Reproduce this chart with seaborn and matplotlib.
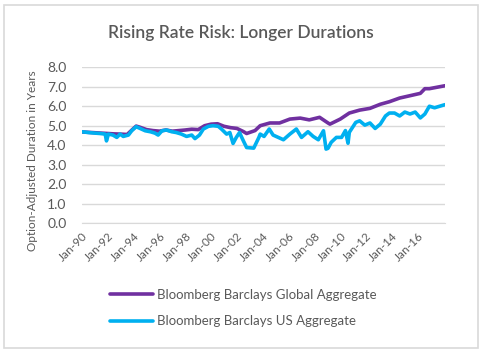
import pandas as pd
import matplotlib
matplotlib.use("Agg")
import matplotlib.pyplot as plt
import seaborn as sns
from matplotlib.patches import Rectangle

# Decimal-year positions and durations
global_years = [1990.0, 1990.5, 1991.0, 1991.5, 1992.0, 1992.5, 1993.0, 1993.5, 1993.9,
                1994.2, 1994.5, 1995.0, 1995.5, 1996.0, 1996.5, 1997.0, 1997.5, 1998.0,
                1998.5, 1999.0, 1999.5, 2000.0, 2000.5, 2001.0, 2001.5, 2002.0, 2002.5,
                2002.75, 2003.4, 2003.8, 2004.55, 2005.3, 2006.1, 2006.9, 2007.6, 2008.4,
                2009.05, 2009.2, 2010.0, 2010.7, 2011.5, 2012.3, 2013.1, 2013.8, 2014.6,
                2015.4, 2016.2, 2016.55, 2016.9, 2017.7, 2018.1]
global_agg = [4.68, 4.66, 4.64, 4.62, 4.6, 4.58, 4.57, 4.55, 4.8,
              4.98, 4.92, 4.8, 4.75, 4.72, 4.78, 4.72, 4.75, 4.78,
              4.82, 4.8, 5.0, 5.08, 5.1, 4.97, 4.9, 4.86, 4.7,
              4.6, 4.75, 5.0, 5.14, 5.14, 5.34, 5.39, 5.3, 5.43,
              5.14, 5.08, 5.34, 5.65, 5.8, 5.89, 6.1, 6.23, 6.42,
              6.54, 6.66, 6.9, 6.9, 7.0, 7.05]

us_years = [1990.0, 1990.5, 1991.0, 1991.4, 1991.8, 1991.9, 1992.05, 1992.4, 1992.7,
            1992.95, 1993.2, 1993.6, 1993.85, 1994.2, 1994.5, 1994.9, 1995.3, 1995.65,
            1995.9, 1996.2, 1996.55, 1996.95, 1997.3, 1997.7, 1998.1, 1998.5, 1998.75,
            1999.1, 1999.4, 1999.8, 2000.15, 2000.55, 2000.8, 2001.2, 2001.45, 2001.7,
            2001.95, 2002.2, 2002.5, 2002.75, 2003.3, 2003.7, 2003.8, 2004.1, 2004.5,
            2004.8, 2005.2, 2005.6, 2006.1, 2006.6, 2007.0, 2007.5, 2007.9, 2008.3,
            2008.7, 2008.9, 2009.05, 2009.3, 2009.7, 2010.1, 2010.4, 2010.6, 2010.7,
            2011.2, 2011.5, 2011.9, 2012.3, 2012.7, 2013.1, 2013.5, 2013.8, 2014.2,
            2014.6, 2015.0, 2015.4, 2015.8, 2016.2, 2016.55, 2016.9, 2017.3, 2017.7, 2018.1]
us_agg = [4.69, 4.65, 4.62, 4.6, 4.57, 4.22, 4.57, 4.52, 4.4,
          4.57, 4.45, 4.52, 4.74, 4.95, 4.86, 4.74, 4.69, 4.62,
          4.52, 4.74, 4.78, 4.69, 4.65, 4.57, 4.45, 4.52, 4.34,
          4.52, 4.83, 4.97, 5.0, 4.97, 4.83, 4.57, 4.65, 4.09,
          4.4, 4.65, 4.22, 3.88, 3.85, 4.4, 4.57, 4.45, 4.83,
          4.52, 4.4, 4.28, 4.57, 4.83, 4.4, 4.69, 4.45, 4.28,
          4.74, 3.8, 3.84, 4.15, 4.4, 4.4, 4.75, 4.1, 4.66,
          5.17, 5.25, 5.03, 5.14, 4.86, 5.08, 5.5, 5.65, 5.65,
          5.5, 5.7, 5.6, 5.7, 5.4, 5.6, 6.0, 5.92, 6.0, 6.08]

series_names = ["Bloomberg Barclays Global Aggregate", "Bloomberg Barclays US Aggregate"]
tick_years = list(range(1990, 2017, 2))
tick_labels = [f"Jan-{y % 100:02d}" for y in tick_years]
y_ticks = [0, 1, 2, 3, 4, 5, 6, 7, 8]

df = pd.concat([
    pd.DataFrame({"year": global_years, "duration": global_agg, "index": series_names[0]}),
    pd.DataFrame({"year": us_years, "duration": us_agg, "index": series_names[1]}),
])

sns.set_style("white")
plt.rcParams["font.family"] = ["Lato", "DejaVu Sans"]
text_grey = "#595959"
grid_grey = "#D9D9D9"

fig = plt.figure(figsize=(4.82, 3.52), dpi=100)
ax = fig.add_axes([0.170, 0.366, 0.753, 0.443])

sns.lineplot(data=df, x="year", y="duration", hue="index",
             palette=["#7030A0", "#00B0F0"], linewidth=2.6, ax=ax,
             estimator=None, sort=False)

ax.set_xlim(1990, 2018.1)
ax.set_ylim(0, 8)
ax.set_yticks(y_ticks)
ax.set_yticklabels([f"{v:.1f}" for v in y_ticks], color=text_grey, fontsize=10)
ax.set_xticks(tick_years)
ax.set_xticklabels(tick_labels, rotation=45, ha="right", rotation_mode="anchor",
                   color=text_grey, fontsize=8.5)
ax.tick_params(axis="x", length=3, color=grid_grey, pad=2)
ax.tick_params(axis="y", length=0, pad=11)
ax.grid(axis="y", color=grid_grey, linewidth=1)
ax.set_axisbelow(True)
for side in ["top", "right", "left"]:
    ax.spines[side].set_visible(False)
ax.spines["bottom"].set_color(grid_grey)
ax.set_xlabel("")
ax.set_ylabel("Option-Adjusted Duration in Years", color=text_grey, fontsize=8.5)
ax.yaxis.set_label_coords(-0.12, 0.40)


def place_legend(size):
    px = size * 100 / 72
    return ax.legend(loc="center left", bbox_to_anchor=(110 / 482, 0.125),
                     bbox_transform=fig.transFigure, frameon=False, fontsize=size,
                     borderpad=0, borderaxespad=0, handlelength=43 / px,
                     handletextpad=4 / px, labelspacing=(30 - px * 1.15) / px,
                     labelcolor=text_grey)


# size the legend text so the longest label is as wide as in the reference
leg = place_legend(10)
fig.canvas.draw()
w = leg.get_texts()[0].get_window_extent().width
leg = place_legend(10 * 219 / w)

fig.text(0.5, 0.905, "Rising Rate Risk: Longer Durations", ha="center", va="center",
         fontsize=12.5, fontweight="semibold", color=text_grey)

fig.patches.append(Rectangle((0.008, 0.012), 0.984, 0.975, transform=fig.transFigure,
                             fill=False, edgecolor="#D9D9D9", linewidth=1.2))

fig.savefig("out.png", dpi=100)
